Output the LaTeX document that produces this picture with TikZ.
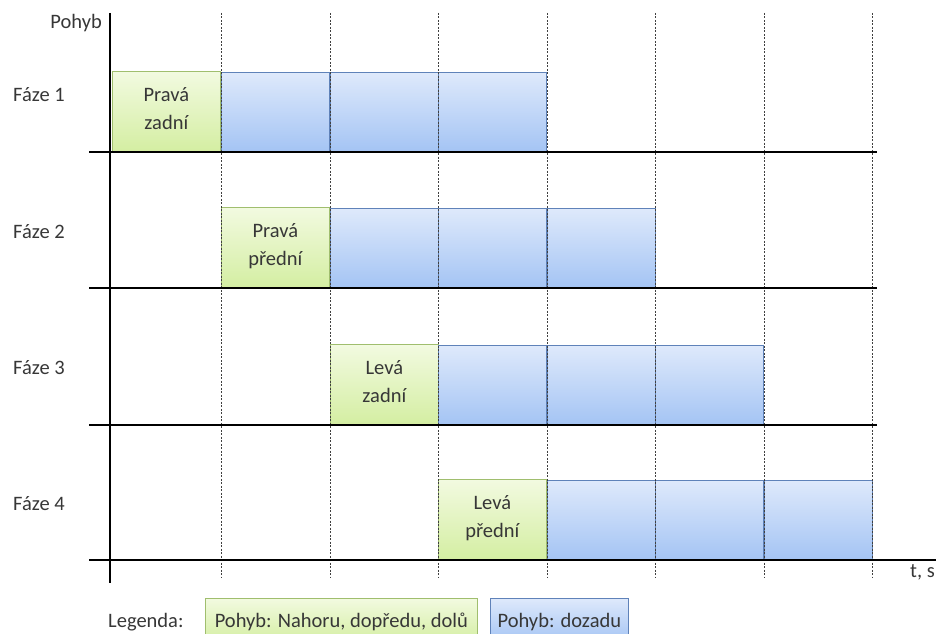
\documentclass[tikz,border=0pt]{standalone}
\usepackage{fontspec}
\setmainfont{Carlito}
\definecolor{gtop}{RGB}{242,250,224}
\definecolor{gbot}{RGB}{212,238,162}
\definecolor{gedge}{RGB}{160,190,110}
\definecolor{btop}{RGB}{222,233,251}
\definecolor{bbot}{RGB}{164,196,244}
\definecolor{bedge}{RGB}{95,130,185}
\definecolor{txt}{RGB}{55,55,55}
\begin{document}
\begin{tikzpicture}[x=1pt,y=-1pt,
  every node/.style={font=\fontsize{20.5}{28}\selectfont, text=txt},
  greenbox/.style={draw=gedge, top color=gtop, bottom color=gbot, line width=0.7pt,
     minimum width=108pt, minimum height=80pt, inner sep=0pt, anchor=south west, align=center, text depth=7pt},
  bluebox/.style={draw=bedge, top color=btop, bottom color=bbot, line width=0.7pt,
     minimum width=108pt, minimum height=79pt, inner sep=0pt, anchor=south west},
  leggreen/.style={draw=gedge, top color=gtop, bottom color=gbot, line width=0.7pt, inner xsep=5pt,
     inner ysep=0pt, anchor=north west, text height=29pt, text depth=15pt},
  legblue/.style={draw=bedge, top color=btop, bottom color=bbot, line width=0.7pt, inner xsep=5pt,
     inner ysep=0pt, anchor=north west, text height=29pt, text depth=15pt},
  axis/.style={line width=1.8pt, black},
  grid/.style={dash pattern=on 2pt off 1.5pt, line width=0.8pt, black!75}]
\clip (0,0) rectangle (938,634);
\useasboundingbox (0,0) rectangle (938,634);
% dashed verticals
\foreach \i/\xx in {1/221,2/330,3/438,4/547,5/655,6/764,7/872}{
  \coordinate (vt\i) at (\xx,13);
  \coordinate (vb\i) at (\xx,578);
}
% phase 1
\node[greenbox] (g1) at (112,152) {Pravá\\zadní};
\node[bluebox] (b11) at (221,152) {};
\node[bluebox] (b12) at (330,152) {};
\node[bluebox] (b13) at (438,152) {};
% phase 2
\node[greenbox] (g2) at (221,288) {Pravá\\přední};
\node[bluebox] (b21) at (330,288) {};
\node[bluebox] (b22) at (438,288) {};
\node[bluebox] (b23) at (547,288) {};
% phase 3
\node[greenbox] (g3) at (330,425) {Levá\\zadní};
\node[bluebox] (b31) at (438,425) {};
\node[bluebox] (b32) at (547,425) {};
\node[bluebox] (b33) at (655,425) {};
% phase 4
\node[greenbox] (g4) at (438,560) {Levá\\přední};
\node[bluebox] (b41) at (547,560) {};
\node[bluebox] (b42) at (655,560) {};
\node[bluebox] (b43) at (764,560) {};
\foreach \i in {1,...,7}{\draw[grid] (vt\i) -- (vb\i);}
% axes
\coordinate (ytop) at (110,13);
\coordinate (ybot) at (110,583);
\draw[axis] (ytop) -- (ybot);
\coordinate (h1l) at (89,152);  \coordinate (h1r) at (877,152);
\coordinate (h2l) at (89,288);  \coordinate (h2r) at (877,288);
\coordinate (h3l) at (89,425);  \coordinate (h3r) at (877,425);
\coordinate (h4l) at (89,560);  \coordinate (h4r) at (936,560);
\draw[axis] (h1l) -- (h1r);
\draw[axis] (h2l) -- (h2r);
\draw[axis] (h3l) -- (h3r);
\draw[axis] (h4l) -- (h4r);
% labels
\node[anchor=base east, inner sep=0pt] (pohyb) at (102,29) {Pohyb};
\node[anchor=base west, inner sep=0pt] (f1) at (13,102) {Fáze 1};
\node[anchor=base west, inner sep=0pt] (f2) at (13,238) {Fáze 2};
\node[anchor=base west, inner sep=0pt] (f3) at (13,374) {Fáze 3};
\node[anchor=base west, inner sep=0pt] (f4) at (13,510) {Fáze 4};
\node[anchor=base west, inner sep=0pt] (ts) at (910,577) {t, s};
% legend
\node[anchor=base west, inner sep=0pt] (leg) at (108,627) {Legenda:};
\node[leggreen, minimum width=272pt] (lg) at (205,598) {Pohyb: Nahoru, dopředu, dolů};
\node[legblue, minimum width=138pt] (lb) at (490,598) {Pohyb: dozadu};
\end{tikzpicture}
\end{document}
